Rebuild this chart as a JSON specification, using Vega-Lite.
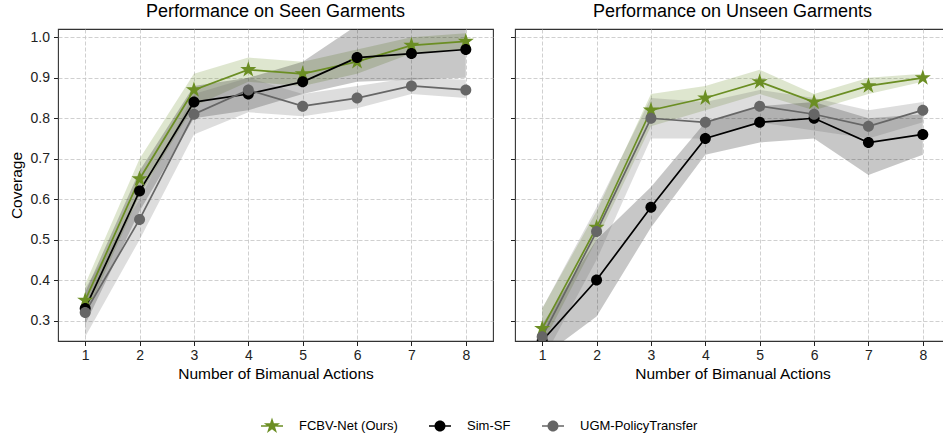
{
  "$schema": "https://vega.github.io/schema/vega-lite/v6.json",
  "padding": {"left": 8, "top": 2, "right": 0, "bottom": 0},
  "autosize": {"type": "pad"},
  "background": "white",
  "data": {"values": [
    {"p": "seen", "m": "FCBV-Net (Ours)", "x": 1, "y": 0.35, "lo": 0.31, "hi": 0.39},
    {"p": "seen", "m": "FCBV-Net (Ours)", "x": 2, "y": 0.65, "lo": 0.61, "hi": 0.70},
    {"p": "seen", "m": "FCBV-Net (Ours)", "x": 3, "y": 0.87, "lo": 0.83, "hi": 0.91},
    {"p": "seen", "m": "FCBV-Net (Ours)", "x": 4, "y": 0.92, "lo": 0.89, "hi": 0.95},
    {"p": "seen", "m": "FCBV-Net (Ours)", "x": 5, "y": 0.91, "lo": 0.88, "hi": 0.94},
    {"p": "seen", "m": "FCBV-Net (Ours)", "x": 6, "y": 0.94, "lo": 0.91, "hi": 0.97},
    {"p": "seen", "m": "FCBV-Net (Ours)", "x": 7, "y": 0.98, "lo": 0.96, "hi": 1.00},
    {"p": "seen", "m": "FCBV-Net (Ours)", "x": 8, "y": 0.99, "lo": 0.97, "hi": 1.01},
    {"p": "seen", "m": "Sim-SF", "x": 1, "y": 0.33, "lo": 0.29, "hi": 0.37},
    {"p": "seen", "m": "Sim-SF", "x": 2, "y": 0.62, "lo": 0.57, "hi": 0.67},
    {"p": "seen", "m": "Sim-SF", "x": 3, "y": 0.84, "lo": 0.80, "hi": 0.88},
    {"p": "seen", "m": "Sim-SF", "x": 4, "y": 0.86, "lo": 0.82, "hi": 0.90},
    {"p": "seen", "m": "Sim-SF", "x": 5, "y": 0.89, "lo": 0.86, "hi": 0.94},
    {"p": "seen", "m": "Sim-SF", "x": 6, "y": 0.95, "lo": 0.89, "hi": 1.03},
    {"p": "seen", "m": "Sim-SF", "x": 7, "y": 0.96, "lo": 0.895, "hi": 1.03},
    {"p": "seen", "m": "Sim-SF", "x": 8, "y": 0.97, "lo": 0.90, "hi": 1.04},
    {"p": "seen", "m": "UGM-PolicyTransfer", "x": 1, "y": 0.32, "lo": 0.26, "hi": 0.38},
    {"p": "seen", "m": "UGM-PolicyTransfer", "x": 2, "y": 0.55, "lo": 0.50, "hi": 0.60},
    {"p": "seen", "m": "UGM-PolicyTransfer", "x": 3, "y": 0.81, "lo": 0.76, "hi": 0.86},
    {"p": "seen", "m": "UGM-PolicyTransfer", "x": 4, "y": 0.87, "lo": 0.815, "hi": 0.90},
    {"p": "seen", "m": "UGM-PolicyTransfer", "x": 5, "y": 0.83, "lo": 0.805, "hi": 0.86},
    {"p": "seen", "m": "UGM-PolicyTransfer", "x": 6, "y": 0.85, "lo": 0.825, "hi": 0.88},
    {"p": "seen", "m": "UGM-PolicyTransfer", "x": 7, "y": 0.88, "lo": 0.86, "hi": 0.90},
    {"p": "seen", "m": "UGM-PolicyTransfer", "x": 8, "y": 0.87, "lo": 0.85, "hi": 0.895},
    {"p": "unseen", "m": "FCBV-Net (Ours)", "x": 1, "y": 0.28, "lo": 0.24, "hi": 0.33},
    {"p": "unseen", "m": "FCBV-Net (Ours)", "x": 2, "y": 0.53, "lo": 0.50, "hi": 0.57},
    {"p": "unseen", "m": "FCBV-Net (Ours)", "x": 3, "y": 0.82, "lo": 0.78, "hi": 0.86},
    {"p": "unseen", "m": "FCBV-Net (Ours)", "x": 4, "y": 0.85, "lo": 0.82, "hi": 0.88},
    {"p": "unseen", "m": "FCBV-Net (Ours)", "x": 5, "y": 0.89, "lo": 0.86, "hi": 0.92},
    {"p": "unseen", "m": "FCBV-Net (Ours)", "x": 6, "y": 0.84, "lo": 0.82, "hi": 0.86},
    {"p": "unseen", "m": "FCBV-Net (Ours)", "x": 7, "y": 0.88, "lo": 0.86, "hi": 0.90},
    {"p": "unseen", "m": "FCBV-Net (Ours)", "x": 8, "y": 0.90, "lo": 0.89, "hi": 0.91},
    {"p": "unseen", "m": "Sim-SF", "x": 1, "y": 0.25, "lo": 0.21, "hi": 0.29},
    {"p": "unseen", "m": "Sim-SF", "x": 2, "y": 0.40, "lo": 0.31, "hi": 0.50},
    {"p": "unseen", "m": "Sim-SF", "x": 3, "y": 0.58, "lo": 0.53, "hi": 0.63},
    {"p": "unseen", "m": "Sim-SF", "x": 4, "y": 0.75, "lo": 0.71, "hi": 0.79},
    {"p": "unseen", "m": "Sim-SF", "x": 5, "y": 0.79, "lo": 0.74, "hi": 0.83},
    {"p": "unseen", "m": "Sim-SF", "x": 6, "y": 0.80, "lo": 0.75, "hi": 0.84},
    {"p": "unseen", "m": "Sim-SF", "x": 7, "y": 0.74, "lo": 0.66, "hi": 0.80},
    {"p": "unseen", "m": "Sim-SF", "x": 8, "y": 0.76, "lo": 0.71, "hi": 0.81},
    {"p": "unseen", "m": "UGM-PolicyTransfer", "x": 1, "y": 0.26, "lo": 0.20, "hi": 0.33},
    {"p": "unseen", "m": "UGM-PolicyTransfer", "x": 2, "y": 0.52, "lo": 0.45, "hi": 0.58},
    {"p": "unseen", "m": "UGM-PolicyTransfer", "x": 3, "y": 0.80, "lo": 0.75, "hi": 0.85},
    {"p": "unseen", "m": "UGM-PolicyTransfer", "x": 4, "y": 0.79, "lo": 0.75, "hi": 0.84},
    {"p": "unseen", "m": "UGM-PolicyTransfer", "x": 5, "y": 0.83, "lo": 0.79, "hi": 0.87},
    {"p": "unseen", "m": "UGM-PolicyTransfer", "x": 6, "y": 0.81, "lo": 0.77, "hi": 0.85},
    {"p": "unseen", "m": "UGM-PolicyTransfer", "x": 7, "y": 0.78, "lo": 0.75, "hi": 0.82},
    {"p": "unseen", "m": "UGM-PolicyTransfer", "x": 8, "y": 0.82, "lo": 0.79, "hi": 0.84}
  ]},
  "spacing": 15,
  "hconcat": [
    {
      "title": "Performance on Seen Garments",
      "width": 435,
      "height": 312,
      "transform": [{"filter": "datum.p === 'seen'"}],
      "encoding": {
        "x": {"field": "x", "type": "quantitative",
              "scale": {"domain": [0.5, 8.5], "nice": false, "zero": false},
              "axis": {"values": [1, 2, 3, 4, 5, 6, 7, 8], "format": "d", "title": "Number of Bimanual Actions", "labelPadding": 3, "titlePadding": 4}}
      },
      "layer": [
        {
          "mark": {"type": "area", "clip": true, "fillOpacity": 0.22},
          "encoding": {
            "y": {"field": "lo", "type": "quantitative", "scale": {"domain": [0.2494, 1.0207], "nice": false, "zero": false},
                  "axis": {"values": [0.3, 0.4, 0.5, 0.6, 0.7, 0.8, 0.9, 1.0], "format": ".1f", "title": "Coverage", "labelPadding": 4, "titlePadding": 6}},
            "y2": {"field": "hi"},
            "color": {"field": "m", "type": "nominal", "scale": {"domain": ["FCBV-Net (Ours)", "Sim-SF", "UGM-PolicyTransfer"], "range": ["#6b8e23", "#000000", "#666666"]},
                      "legend": {"orient": "none", "legendX": 204, "legendY": 387, "direction": "horizontal", "title": null,
                                 "symbolSize": 400, "labelFontSize": 13, "labelFont": "Liberation Sans", "labelColor": "#000", "labelOffset": 17, "columnPadding": 31,
                                 "encode": {"symbols": {"update": {
                                   "shape": {"signal": "datum.value === 'FCBV-Net (Ours)' ? 'M-1.1,-0.085H-0.42V0.085H-1.1ZM0.42,-0.085H1.1V0.085H0.42ZM0,-0.85L0.191,-0.263L0.808,-0.263L0.309,0.1L0.5,0.688L0,0.325L-0.5,0.688L-0.309,0.1L-0.808,-0.263L-0.191,-0.263Z' : 'M-1.1,-0.085H-0.5V0.085H-1.1ZM0.5,-0.085H1.1V0.085H0.5ZM-0.55,0A0.55 0.55 0 1 1 0.55,0A0.55 0.55 0 1 1 -0.55,0Z'"},
                                   "fill": {"scale": "color", "field": "value"},
                                   "opacity": {"value": 1},
                                   "fillOpacity": {"value": 1},
                                   "strokeWidth": {"value": 0}
                                 }}}}}
          }
        },
        {
          "mark": {"type": "line", "clip": true, "strokeWidth": 1.7},
          "encoding": {
            "y": {"field": "y", "type": "quantitative"},
            "color": {"field": "m", "type": "nominal"}
          }
        },
        {
          "transform": [{"filter": "datum.m === 'FCBV-Net (Ours)'"}],
          "mark": {"type": "point", "filled": true, "clip": true, "opacity": 1, "size": 400, "shape": "M0,-0.85L0.191,-0.263L0.808,-0.263L0.309,0.1L0.5,0.688L0,0.325L-0.5,0.688L-0.309,0.1L-0.808,-0.263L-0.191,-0.263Z"},
          "encoding": {
            "y": {"field": "y", "type": "quantitative"},
            "color": {"field": "m", "type": "nominal"}
          }
        },
        {
          "transform": [{"filter": "datum.m !== 'FCBV-Net (Ours)'"}],
          "mark": {"type": "point", "filled": true, "clip": true, "opacity": 1, "size": 400, "shape": "M-0.55,0A0.55 0.55 0 1 1 0.55,0A0.55 0.55 0 1 1 -0.55,0Z"},
          "encoding": {
            "y": {"field": "y", "type": "quantitative"},
            "color": {"field": "m", "type": "nominal"}
          }
        }
      ]
    },
    {
      "title": "Performance on Unseen Garments",
      "width": 435,
      "height": 312,
      "transform": [{"filter": "datum.p === 'unseen'"}],
      "encoding": {
        "x": {"field": "x", "type": "quantitative",
              "scale": {"domain": [0.5, 8.5], "nice": false, "zero": false},
              "axis": {"values": [1, 2, 3, 4, 5, 6, 7, 8], "format": "d", "title": "Number of Bimanual Actions", "labelPadding": 3, "titlePadding": 4}}
      },
      "layer": [
        {
          "mark": {"type": "area", "clip": true, "fillOpacity": 0.22},
          "encoding": {
            "y": {"field": "lo", "type": "quantitative", "scale": {"domain": [0.2494, 1.0207], "nice": false, "zero": false},
                  "axis": {"values": [0.3, 0.4, 0.5, 0.6, 0.7, 0.8, 0.9, 1.0], "labels": false, "title": null}},
            "y2": {"field": "hi"},
            "color": {"field": "m", "type": "nominal"}
          }
        },
        {
          "mark": {"type": "line", "clip": true, "strokeWidth": 1.7},
          "encoding": {
            "y": {"field": "y", "type": "quantitative"},
            "color": {"field": "m", "type": "nominal"}
          }
        },
        {
          "transform": [{"filter": "datum.m === 'FCBV-Net (Ours)'"}],
          "mark": {"type": "point", "filled": true, "clip": true, "opacity": 1, "size": 400, "shape": "M0,-0.85L0.191,-0.263L0.808,-0.263L0.309,0.1L0.5,0.688L0,0.325L-0.5,0.688L-0.309,0.1L-0.808,-0.263L-0.191,-0.263Z"},
          "encoding": {
            "y": {"field": "y", "type": "quantitative"},
            "color": {"field": "m", "type": "nominal"}
          }
        },
        {
          "transform": [{"filter": "datum.m !== 'FCBV-Net (Ours)'"}],
          "mark": {"type": "point", "filled": true, "clip": true, "opacity": 1, "size": 400, "shape": "M-0.55,0A0.55 0.55 0 1 1 0.55,0A0.55 0.55 0 1 1 -0.55,0Z"},
          "encoding": {
            "y": {"field": "y", "type": "quantitative"},
            "color": {"field": "m", "type": "nominal"}
          }
        }
      ]
    }
  ],
  "config": {
    "font": "Liberation Sans",
    "view": {"stroke": "#333333", "strokeWidth": 1.1},
    "axis": {"labelFont": "Liberation Sans", "titleFont": "Liberation Sans", "labelFontSize": 14, "titleFontSize": 15.5, "titleFontWeight": "normal",
             "labelColor": "#222222", "titleColor": "#000000", "tickColor": "#222222", "tickSize": 4.5, "tickWidth": 1, "domain": false,
             "gridColor": "#c4c4c4", "gridDash": [4, 2], "gridWidth": 0.8},
    "title": {"font": "Liberation Sans", "fontSize": 18, "fontWeight": "normal", "color": "#000000", "offset": 8}
  }
}
